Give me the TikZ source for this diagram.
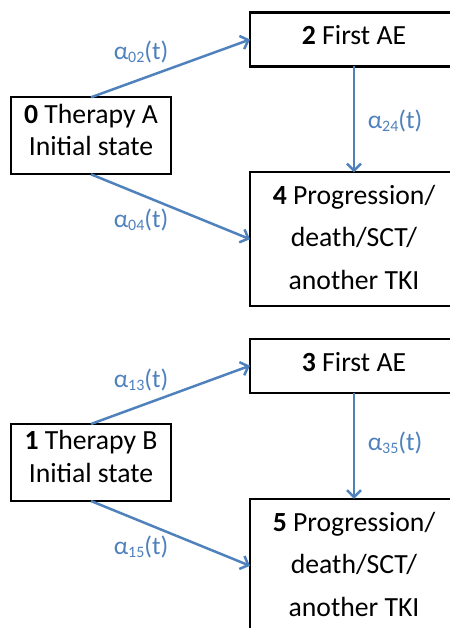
\documentclass[tikz,border=0pt]{standalone}
\usepackage{fontspec}
\setmainfont{Carlito}
\usetikzlibrary{arrows.meta}
\definecolor{arrowblue}{RGB}{79,129,189}
\newcommand{\ratelbl}[1]{α\raisebox{-3bp}{\fontsize{16}{16}\selectfont #1}(t)}
\begin{document}
\begin{tikzpicture}[x=1bp,y=-1bp,
  box/.style={draw=black, line width=2.2bp, inner sep=0pt, outer sep=0pt},
  smallbox/.style={box, minimum width=160bp, minimum height=77bp},
  aebox/.style={box, minimum width=208bp, minimum height=54bp},
  endbox/.style={box, minimum width=208bp, minimum height=133.7bp},
  txtA/.style={font=\fontsize{27.8}{33}\selectfont, align=center, anchor=base, inner sep=0pt},
  txtB/.style={font=\fontsize{27.8}{42.5}\selectfont, align=center, anchor=base, inner sep=0pt},
  flow/.style={draw=arrowblue, line width=2.5bp, -{Straight Barb[length=7bp,width=14bp]}},
  rate/.style={text=arrowblue, font=\fontsize{25.5}{25.5}\selectfont, inner sep=0pt}]
\useasboundingbox (0,0) rectangle (450,628);
\clip (0,0) rectangle (450,628);
% top group
\node[smallbox] (s0) at (91,135.8) {};
\node[txtA] (t0) at (91,156) {\textbf{0} Therapy A\\Initial state};
\node[aebox] (s2) at (354,39.5) {};
\node[txtA] (t2) at (354,45) {\textbf{2} First AE};
\node[endbox] (s4) at (354,239.2) {};
\node[txtB] (t4) at (354,289) {\textbf{4} Progression/\\death/SCT/\\another TKI};
\draw[flow] (s0.north) -- (s2.west);
\draw[flow] (s0.south) -- (s4.west);
\draw[flow] (s2.south) -- (s4.north);
\node[rate] (l02) at (141,52) {\ratelbl{02}};
\node[rate] (l04) at (141,220) {\ratelbl{04}};
\node[rate] (l24) at (395,121) {\ratelbl{24}};
% bottom group
\node[smallbox] (s1) at (91,462.5) {};
\node[txtA] (t1) at (91,482.3) {\textbf{1} Therapy B\\Initial state};
\node[aebox] (s3) at (354,365.7) {};
\node[txtA] (t3) at (354,371.7) {\textbf{3} First AE};
\node[endbox] (s5) at (354,565.8) {};
\node[txtB] (t5) at (354,616) {\textbf{5} Progression/\\death/SCT/\\another TKI};
\draw[flow] (s1.north) -- (s3.west);
\draw[flow] (s1.south) -- (s5.west);
\draw[flow] (s3.south) -- (s5.north);
\node[rate] (l13) at (141,379.5) {\ratelbl{13}};
\node[rate] (l15) at (141,547) {\ratelbl{15}};
\node[rate] (l35) at (395,443) {\ratelbl{35}};
\end{tikzpicture}
\end{document}
